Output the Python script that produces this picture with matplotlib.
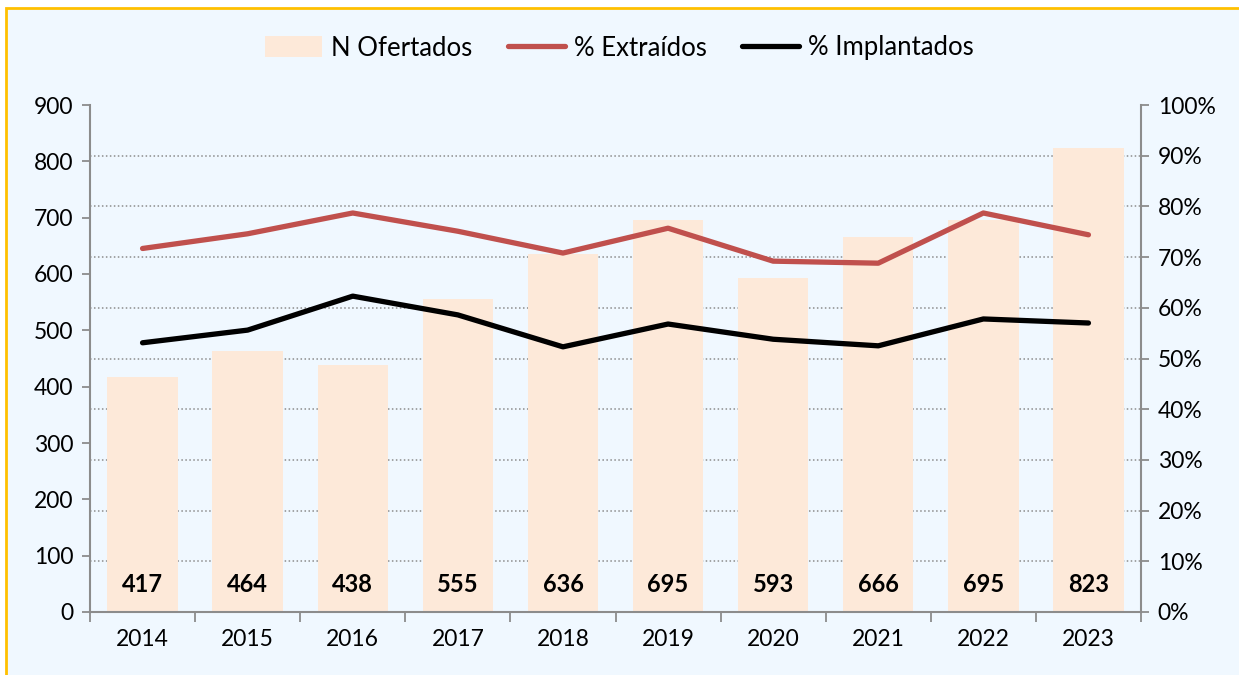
import matplotlib
matplotlib.use("Agg")
import matplotlib.pyplot as plt
import numpy as np
from matplotlib.patches import Rectangle
from matplotlib.ticker import FuncFormatter, MultipleLocator, FixedLocator

plt.rcParams['font.family'] = ['Lato', 'DejaVu Sans']

years = ['2014', '2015', '2016', '2017', '2018', '2019', '2020', '2021', '2022', '2023']
n_ofertados = [417, 464, 438, 555, 636, 695, 593, 666, 695, 823]
pct_extraidos = [71.7, 74.6, 78.7, 75.1, 70.8, 75.7, 69.2, 68.8, 78.7, 74.4]
pct_implantados = [53.1, 55.6, 62.3, 58.6, 52.3, 56.8, 53.8, 52.5, 57.8, 57.0]

bar_color = '#FDE9D9'
red = '#C0504D'
bg = '#F0F8FF'
gray = '#8C8C8C'

fig = plt.figure(figsize=(12.39, 6.75), dpi=100)
fig.patch.set_facecolor('white')
frame = Rectangle((6/1239, -0.01), 1.0, 1 - 8/675 + 0.01, transform=fig.transFigure,
                  facecolor=bg, edgecolor='#FFC000', linewidth=2, zorder=-10)
fig.patches.append(frame)

ax = fig.add_axes([90/1239, 1 - 612/675, (1141 - 90)/1239, (612 - 105)/675])
ax.patch.set_alpha(0)
x = np.arange(len(years))
bars = ax.bar(x, n_ofertados, width=0.67, color=bar_color, zorder=2, label='N Ofertados')
for xi, v in zip(x, n_ofertados):
    ax.text(xi, 48, str(v), ha='center', va='center', fontsize=17, fontweight='bold', zorder=5)

ax.set_xlim(-0.5, len(years) - 0.5)
ax.set_ylim(0, 900)
ax.yaxis.set_major_locator(MultipleLocator(100))
ax.yaxis.set_minor_locator(FixedLocator(np.arange(90, 901, 90)))
ax.grid(which='minor', axis='y', linestyle=(0, (1, 1.6)), color='#8C8C8C', linewidth=1.1, zorder=0)
ax.set_axisbelow(True)
ax.tick_params(axis='y', which='minor', length=0)
ax.tick_params(axis='y', which='major', length=6, width=1.3, color=gray, labelsize=16.5, pad=6)
ax.set_xticks(x)
ax.set_xticklabels(years)
ax.xaxis.set_minor_locator(FixedLocator(np.arange(-0.5, len(years), 1)))
ax.tick_params(axis='x', which='major', length=0, labelsize=16.5, pad=12)
ax.tick_params(axis='x', which='minor', length=7, width=1.3, color=gray)
for s in ['top', 'right']:
    ax.spines[s].set_visible(False)
for s in ['left', 'bottom']:
    ax.spines[s].set_color(gray)
    ax.spines[s].set_linewidth(1.5)

ax2 = ax.twinx()
ax2.patch.set_alpha(0)
l1, = ax2.plot(x, pct_extraidos, color=red, linewidth=3.8, solid_capstyle='round', label='% Extraídos', zorder=3)
l2, = ax2.plot(x, pct_implantados, color='black', linewidth=3.8, solid_capstyle='round', label='% Implantados', zorder=3)
ax2.set_ylim(0, 100)
ax2.yaxis.set_major_locator(MultipleLocator(10))
ax2.yaxis.set_major_formatter(FuncFormatter(lambda v, p: f'{v:.0f}%'))
ax2.tick_params(axis='y', length=6, width=1.3, color=gray, labelsize=16.5, pad=6)
for s in ['top', 'left', 'bottom']:
    ax2.spines[s].set_visible(False)
ax2.spines['right'].set_color(gray)
ax2.spines['right'].set_linewidth(1.5)

fig.legend(handles=[bars, l1, l2], labels=['N Ofertados', '% Extraídos', '% Implantados'],
           loc='center', bbox_to_anchor=(0.5, 1 - 48/675), ncol=3, frameon=False,
           fontsize=18.5, handlelength=2.2, handleheight=0.9, columnspacing=1.4, handletextpad=0.35)

fig.savefig('out.png', dpi=100, facecolor='white')
